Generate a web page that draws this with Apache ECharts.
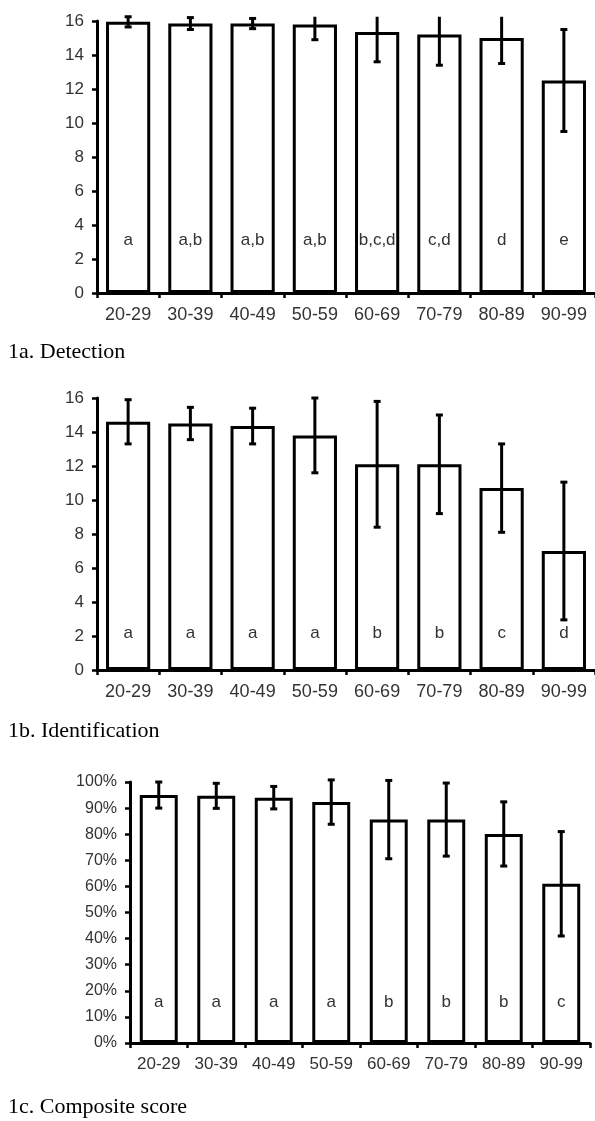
<!DOCTYPE html>
<html><head><meta charset="utf-8">
<script src="https://cdn.jsdelivr.net/npm/echarts@6/dist/echarts.min.js"></script>
<style>html,body{margin:0;padding:0;background:#fff}#c{width:595px;height:1121px}</style>
</head><body><div id="c"></div>
<script>
const categories = ['20-29','30-39','40-49','50-59','60-69','70-79','80-89','90-99'];
const detMean = [15.95, 15.85, 15.85, 15.8, 15.35, 15.2, 15.0, 12.5];
const detSd = [0.3, 0.35, 0.3, 0.9, 1.75, 1.8, 1.5, 3.0];
const detLetters = ['a','a,b','a,b','a,b','b,c,d','c,d','d','e'];
const idMean = [14.6, 14.5, 14.35, 13.8, 12.1, 12.1, 10.7, 7.0];
const idSd = [1.3, 0.95, 1.05, 2.2, 3.7, 2.9, 2.6, 4.05];
const idLetters = ['a','a','a','a','b','b','c','d'];
const compMean = [95, 94.7, 94, 92.3, 85.6, 85.6, 80.1, 61];
const compSd = [5, 4.8, 4.3, 8.5, 15, 14, 12.3, 20];
const compLetters = ['a','a','a','a','b','b','b','c'];
const titles = ['1a. Detection','1b. Identification','1c. Composite score'];

const chart = echarts.init(document.getElementById('c'), null, {renderer:'canvas'});

function errSeries(idx, mean, sd, capMax){
  return {
    type:'custom', xAxisIndex:idx, yAxisIndex:idx, z:10,
    data: mean.map((m,i)=>[i, m, sd[i]]),
    renderItem: function(params, api){
      const i = api.value(0), m = api.value(1), s = api.value(2);
      const up = Math.min(m+s, capMax), lo = m - s;
      const pu = api.coord([i, up]), pl = api.coord([i, lo]);
      const ch = [];
      const st = {stroke:'#000', lineWidth:3};
      ch.push({type:'line', shape:{x1:pu[0],y1:pu[1],x2:pl[0],y2:pl[1]}, style:st});
      if (m+s <= capMax) ch.push({type:'line', shape:{x1:pu[0]-3.5,y1:pu[1],x2:pu[0]+3.5,y2:pu[1]}, style:st});
      ch.push({type:'line', shape:{x1:pl[0]-3.5,y1:pl[1],x2:pl[0]+3.5,y2:pl[1]}, style:st});
      return {type:'group', children:ch};
    }
  };
}
function barSeries(idx, mean, letters, width, dist){
  return {
    type:'bar', xAxisIndex:idx, yAxisIndex:idx, barWidth:width,
    data: mean,
    itemStyle:{color:'#fff', borderColor:'#000', borderWidth:3},
    label:{show:true, position:'insideBottom', distance:dist,
      formatter: p => letters[p.dataIndex],
      fontFamily:'Liberation Sans', fontSize:17, color:'#333'}
  };
}
const grids = [
  {left:97, top:21, width:498, height:272},
  {left:97, top:398, width:498, height:272},
  {left:130, top:782, width:460, height:261}
];
const xFont = [18, 18, 17];
const xAxes = grids.map((g,i)=>({
  type:'category', gridIndex:i, data:categories,
  axisLine:{lineStyle:{color:'#000', width:3}},
  axisTick:{show:true, alignWithLabel:false, length:5, lineStyle:{color:'#000', width:2.5}},
  axisLabel:{margin:13, interval:0, fontFamily:'Liberation Sans', fontSize:xFont[i], color:'#333'}
}));
const yAxes = [0,1,2].map(i=>({
  type:'value', gridIndex:i, min:0, max: i<2?16:100, interval: i<2?2:10,
  splitLine:{show:false},
  axisLine:{show:true, lineStyle:{color:'#000', width:3}},
  axisTick:{show:true, length:5, lineStyle:{color:'#000', width:2.5}},
  axisLabel:{margin:13, formatter: i<2 ? '{value}' : '{value}%', fontFamily:'Liberation Sans', fontSize:i<2?17:16, color:'#333'}
}));
chart.setOption({
  animation:false,
  title: [
    {text:titles[0], left:8, top:341},
    {text:titles[1], left:8, top:720},
    {text:titles[2], left:8, top:1096}
  ].map(t=>Object.assign(t,{padding:0, textStyle:{fontFamily:'Liberation Serif', fontSize:22, fontWeight:'normal', color:'#000'}})),
  grid: grids,
  xAxis: xAxes,
  yAxis: yAxes,
  series: [
    barSeries(0, detMean, detLetters, '71%', 44),
    errSeries(0, detMean, detSd, 16.25),
    barSeries(1, idMean, idLetters, '71%', 28),
    errSeries(1, idMean, idSd, 16.25),
    barSeries(2, compMean, compLetters, '66%', 32),
    errSeries(2, compMean, compSd, 101)
  ]
});
</script></body></html>
